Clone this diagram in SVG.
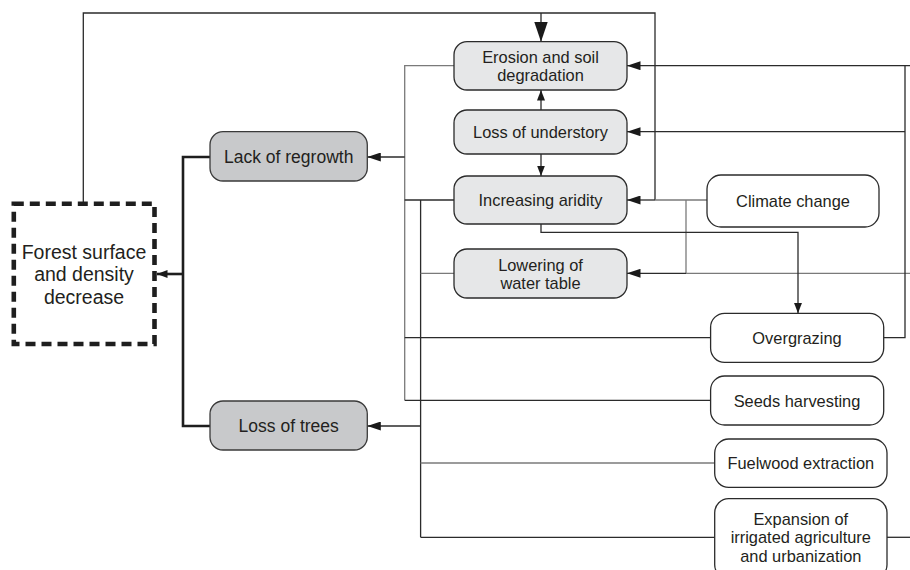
<svg xmlns="http://www.w3.org/2000/svg" width="910" height="570" viewBox="0 0 910 570">
<style>
.t{font-family:"Liberation Sans",Arial,sans-serif;fill:#231f20;text-anchor:middle}
.r{font-size:16.4px}
.l{font-size:17.5px}
.f{font-size:19.5px}
.nl{fill:#e6e7e8;stroke:#2b2b2b;stroke-width:1.3}
.nd{fill:#c8c9cb;stroke:#3a3a3a;stroke-width:1.3}
.nw{fill:#fff;stroke:#2b2b2b;stroke-width:1.3}
.ln{fill:none;stroke:#2b2b2b;stroke-width:1.3}
.lg{fill:none;stroke:#7a7a7a;stroke-width:1.3}
.th{fill:none;stroke:#1e1e1e;stroke-width:2.6}
</style>
<defs>
<marker id="a" markerWidth="14" markerHeight="9" refX="13.5" refY="4.5" orient="auto" markerUnits="userSpaceOnUse">
<path d="M0,0 L13.5,4.5 L0,9 Z" fill="#1a1a1a"/>
</marker>
<marker id="s" markerWidth="11" markerHeight="8" refX="10.5" refY="4" orient="auto" markerUnits="userSpaceOnUse">
<path d="M0,0 L10.5,4 L0,8 Z" fill="#1a1a1a"/>
</marker>
<marker id="b" markerWidth="20" markerHeight="14" refX="20" refY="6.8" orient="auto" markerUnits="userSpaceOnUse">
<path d="M0,0 L20,6.8 L0,13.6 Z" fill="#1a1a1a"/>
</marker>
</defs>
<g id="connectors">
<!-- feedback from forest decrease -->
<path class="ln" d="M83.3,203.7 V13 H655 V200"/>
<path class="ln" d="M541,13 V41.7" marker-end="url(#b)"/>
<path class="ln" d="M655,200 H627" marker-end="url(#a)"/>
<!-- climate change -->
<path class="lg" d="M707,200 H655"/>
<path class="lg" d="M686,200 V273.3"/>
<path class="ln" d="M686,273.3 H627" marker-end="url(#a)"/>
<path class="lg" d="M910,273.3 H686"/>
<!-- internal arrows -->
<path class="ln" d="M541,110 V90" marker-end="url(#s)"/>
<path class="ln" d="M541,154 V176" marker-end="url(#s)"/>
<path class="ln" d="M541,224 V232.3 H798 V313.3" marker-end="url(#s)"/>
<!-- right bus from overgrazing -->
<path class="ln" d="M883.7,337.7 H905 V65.7"/>
<path class="ln" d="M910,65.7 H627" marker-end="url(#a)"/>
<path class="ln" d="M905,131.7 H627" marker-end="url(#a)"/>
<!-- bus to lack of regrowth -->
<path class="lg" d="M454,65.7 H404.7 V400.3"/>
<path class="ln" d="M404.7,157 H367.3" marker-end="url(#a)"/>
<path class="ln" d="M454,200 H404.7"/>
<path class="ln" d="M710.6,337.7 H404.7"/>
<path class="ln" d="M710.6,400.3 H404.7"/>
<!-- bus to loss of trees -->
<path class="ln" d="M420.6,200 V537.3"/>
<path class="lg" d="M454,273.3 H420.6"/>
<path class="ln" d="M420.6,426 H367.3" marker-end="url(#a)"/>
<path class="lg" d="M714.7,463 H420.6"/>
<path class="ln" d="M714.7,537.3 H420.6"/>
<path class="ln" d="M887,537.3 H910"/>
<!-- thick connectors -->
<path class="th" d="M210,157 H183 V426 H210"/>
<path class="th" d="M183,274 H157" marker-end="url(#s)"/>
</g>
<g id="forest">
<rect x="13.8" y="203.7" width="140.7" height="140.3" fill="#fff" stroke="#1e1e1e" stroke-width="4.6" stroke-dasharray="10 6"/>
<text class="t f" x="84" y="258.5">Forest surface</text>
<text class="t f" x="84" y="281">and density</text>
<text class="t f" x="84" y="304">decrease</text>
</g>
<g id="lack">
<rect class="nd" x="210" y="131.7" width="157.3" height="49.3" rx="13"/>
<text class="t l" x="288.7" y="163">Lack of regrowth</text>
</g>
<g id="trees">
<rect class="nd" x="210" y="401" width="157.3" height="49" rx="13"/>
<text class="t l" x="288.7" y="432">Loss of trees</text>
</g>
<g id="erosion">
<rect class="nl" x="454" y="41.7" width="173" height="48.3" rx="13"/>
<text class="t r" x="540.5" y="62.5">Erosion and soil</text>
<text class="t r" x="540.5" y="81">degradation</text>
</g>
<g id="understory">
<rect class="nl" x="454" y="110" width="173" height="44" rx="13"/>
<text class="t r" x="540.5" y="138">Loss of understory</text>
</g>
<g id="aridity">
<rect class="nl" x="454" y="176" width="173" height="48" rx="13"/>
<text class="t r" x="540.5" y="206">Increasing aridity</text>
</g>
<g id="watertable">
<rect class="nl" x="454" y="249" width="173" height="49" rx="13"/>
<text class="t r" x="540.5" y="270.5">Lowering of</text>
<text class="t r" x="540.5" y="288.5">water table</text>
</g>
<g id="climate">
<rect class="nw" x="707" y="175" width="172" height="52" rx="14"/>
<text class="t r" x="793" y="207">Climate change</text>
</g>
<g id="overgrazing">
<rect class="nw" x="710.6" y="313.3" width="173.1" height="49" rx="14"/>
<text class="t r" x="797" y="344">Overgrazing</text>
</g>
<g id="seeds">
<rect class="nw" x="710.6" y="376" width="173.1" height="49" rx="14"/>
<text class="t r" x="797" y="406.5">Seeds harvesting</text>
</g>
<g id="fuelwood">
<rect class="nw" x="714.7" y="439" width="172.3" height="48.3" rx="14"/>
<text class="t r" x="800.8" y="469">Fuelwood extraction</text>
</g>
<g id="expansion">
<rect class="nw" x="714.7" y="498.7" width="172.3" height="80" rx="14"/>
<text class="t r" x="800.8" y="525">Expansion of</text>
<text class="t r" x="800.8" y="543.3">irrigated agriculture</text>
<text class="t r" x="800.8" y="561.7">and urbanization</text>
</g>
</svg>
